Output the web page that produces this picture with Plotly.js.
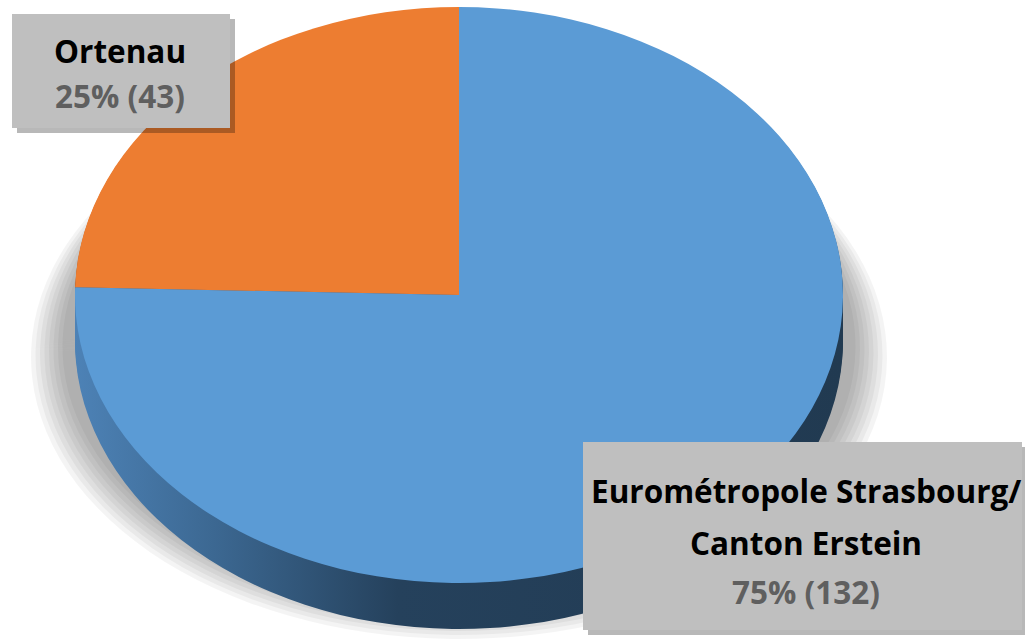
<!DOCTYPE html>
<html><head><meta charset="utf-8">
<script src="https://cdn.plot.ly/plotly-3.0.1.min.js"></script>
<style>html,body{margin:0;padding:0;background:#fff;overflow:hidden}</style>
</head><body>
<div id="chart" style="width:1025px;height:640px"></div>
<script>
// ---- data ----
const labelLines = [['Ortenau'], ['Eurométropole Strasbourg/', 'Canton Erstein']];
const categories = labelLines.map(l => l.join(' '));
const values = [43, 132];
const faceColors = ['#ED7D31', '#5B9BD5'];
const sideColors = ['#9a4f1f', '#2c4b69'];
const shadowColor = 'rgba(0,0,0,0.045)';

// ---- geometry / style ----
const W = 1025, H = 640;
const CX = 459, CY = 295, RX = 384, RY = 288, DEPTH = 46, STEP = 3;
const SHADOW_LAYERS = 8;
const FONT = '"Open Sans", Lato, sans-serif';

const total = values.reduce((a, b) => a + b, 0);
const pctText = values.map(v => Math.round(100 * v / total) + '% (' + v + ')');
// first slice ends exactly at 12 o'clock
const startAngle = 360 - 360 * values[0] / total;

function pieTrace(colors) {
  return {
    type: 'pie', labels: categories, values: values, sort: false,
    direction: 'clockwise', rotation: startAngle, textinfo: 'none',
    hoverinfo: 'skip', showlegend: false,
    domain: {x: [0, 1], y: [0, 1]},
    marker: {colors: colors, line: {width: 0}}
  };
}

const traces = [];
const offsets = [];
const roles = [];
for (let s = 0; s < SHADOW_LAYERS; s++) { traces.push(pieTrace([shadowColor, shadowColor])); offsets.push(s); roles.push('shadow'); }
for (let d = DEPTH; d > 0; d -= STEP) { traces.push(pieTrace(sideColors)); offsets.push(d); roles.push('side'); }
traces.push(pieTrace(faceColors)); offsets.push(0); roles.push('face');

// label boxes (pixel layout)
const boxes = [
  {x0: 12, y0: 14, x1: 230, y1: 128, cx: 120, lines: [50, 95]},
  {x0: 583, y0: 442, x1: 1022, y1: 630, cx: 806, lines: [490, 542, 591]}
];
const px = x => x / W, py = y => 1 - y / H;
const shapes = [], annotations = [];
boxes.forEach((b, i) => {
  shapes.push({type: 'rect', xref: 'paper', yref: 'paper', x0: px(b.x0 + 5), x1: px(b.x1 + 5), y0: py(b.y0 + 5), y1: py(b.y1 + 5),
    fillcolor: 'rgba(0,0,0,0.28)', line: {width: 0}, layer: 'above'});
  shapes.push({type: 'rect', xref: 'paper', yref: 'paper', x0: px(b.x0), x1: px(b.x1), y0: py(b.y0), y1: py(b.y1),
    fillcolor: '#BFBFBF', line: {width: 0}, layer: 'above'});
  const texts = labelLines[i].map(t => ({t: t, c: '#000000'})).concat([{t: pctText[i], c: '#5f5f5f'}]);
  texts.forEach((tx, k) => {
    annotations.push({xref: 'paper', yref: 'paper', x: px(b.cx), y: py(b.lines[k]), xanchor: 'center', yanchor: 'middle',
      showarrow: false, text: '<b>' + tx.t + '</b>', font: {family: FONT, size: 31.5, color: tx.c}});
  });
});

const layout = {
  width: W, height: H, margin: {l: 0, r: 0, t: 0, b: 0},
  paper_bgcolor: '#ffffff', plot_bgcolor: '#ffffff',
  shapes: shapes, annotations: annotations, showlegend: false
};

Plotly.newPlot('chart', traces, layout, {staticPlot: true, displayModeBar: false}).then(gd => {
  const svg = gd.querySelector('.main-svg');
  let defs = svg.querySelector('defs');
  const NS = 'http://www.w3.org/2000/svg';
  const grad = document.createElementNS(NS, 'linearGradient');
  grad.setAttribute('id', 'sideGrad');
  grad.setAttribute('x1', '0'); grad.setAttribute('x2', '1'); grad.setAttribute('y1', '0'); grad.setAttribute('y2', '0');
  [['0', '#4d82b6'], ['0.18', '#3c6892'], ['0.42', '#25415c'], ['1', '#213a51']].forEach(s => {
    const st = document.createElementNS(NS, 'stop');
    st.setAttribute('offset', s[0]); st.setAttribute('stop-color', s[1]); grad.appendChild(st);
  });
  defs.appendChild(grad);

  const cd = gd.calcdata[0][0];
  const pcx = cd.cx, pcy = cd.cy, r = cd.r;
  const sx = RX / r, sy = RY / r;
  const groups = gd.querySelectorAll('.pielayer .trace');
  groups.forEach((g, i) => {
    if (roles[i] === 'shadow') {
      const k = offsets[i];
      const srx = RX + 44 - k * 4.5, sry = RY - 6 - k * 2.5, scy = CY + 62 - k * 1.5;
      g.setAttribute('transform', `translate(${CX},${scy}) scale(${srx / r},${sry / r}) translate(${-pcx},${-pcy})`);
    } else {
      g.setAttribute('transform', `translate(${CX},${CY + offsets[i]}) scale(${sx},${sy}) translate(${-pcx},${-pcy})`);
      if (roles[i] === 'side') {
        const paths = g.querySelectorAll('path.surface');
        if (paths[1]) paths[1].style.fill = 'url(#sideGrad)';
      }
    }
  });
});
</script>
</body></html>
